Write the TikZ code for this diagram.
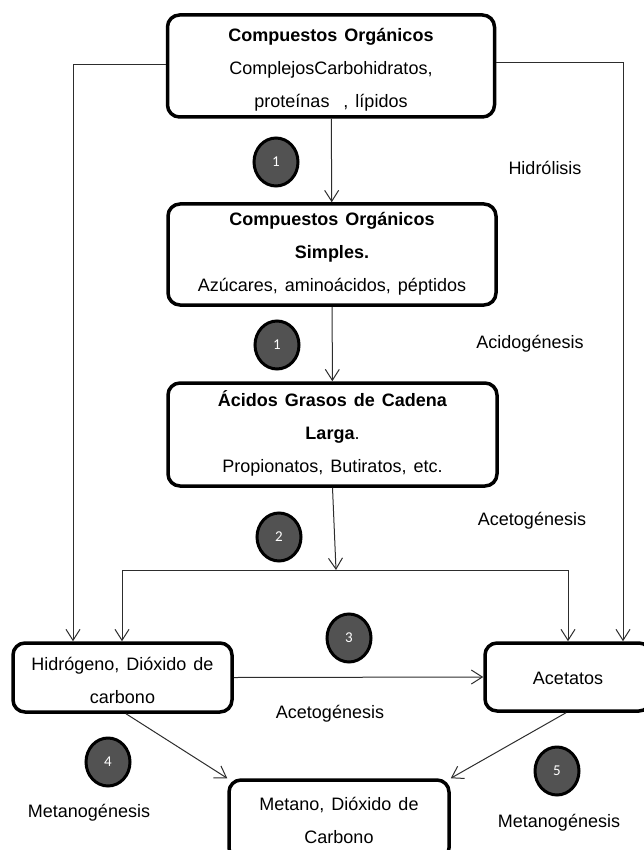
\documentclass[tikz,border=0pt]{standalone}
\usepackage{fontspec}
\setmainfont{Liberation Sans}
\newfontfamily\numfont{Carlito}
\usetikzlibrary{arrows.meta,shapes.geometric,calc}
\definecolor{stepfill}{RGB}{82,82,82}
\definecolor{linegray}{RGB}{45,45,45}
\newcommand\stagefont{\fontsize{18}{33}\selectfont\spaceskip 7pt plus 2pt minus 1pt\relax}
\tikzset{
  stagebox/.style={draw=black, line width=3.5pt, rounded corners=12pt, fill=white,
    inner sep=0pt},
  stagetext/.style={align=center, inner sep=0pt, font=\stagefont},
  stepmark/.style={ellipse, draw=black, line width=3pt, fill=stepfill,
    minimum width=44pt, minimum height=48pt, inner sep=0pt,
    text=white, font=\numfont\fontsize{15}{15}\selectfont},
  phase/.style={font=\fontsize{18}{20}\selectfont, inner sep=0pt},
  wire/.style={draw=linegray, line width=1pt},
  flow/.style={wire, -{Straight Barb[length=11pt,width=14pt,line width=1pt]}}
}
\begin{document}
\begin{tikzpicture}[x=1pt,y=-1pt]
\useasboundingbox (0,0) rectangle (644,850);

% main stages: frames
\node[stagebox, minimum width=327pt, minimum height=102pt] (b1) at (331,66) {};
\node[stagebox, minimum width=328pt, minimum height=101pt] (b2) at (332,254.5) {};
\node[stagebox, minimum width=329pt, minimum height=103pt] (b3) at (332.5,434.5) {};
\node[stagebox, minimum width=219pt, minimum height=69pt] (hid) at (122.5,677.5) {};
\node[stagebox, minimum width=166pt, minimum height=68pt] (acet) at (568,677) {};
\node[stagebox, minimum width=220pt, minimum height=80pt] (met) at (339,820) {};

% main stages: contents
\node[stagetext] (t1) at ($(b1)+(0,4)$)
  {\textbf{Compuestos Orgánicos}\\ComplejosCarbohidratos,\\proteínas \ , lípidos};
\node[stagetext] (t2) at ($(b2)+(0,-0.5)$)
  {\textbf{Compuestos Orgánicos}\\\textbf{Simples.}\\Azúcares, aminoácidos, péptidos};
\node[stagetext] (t3) at ($(b3)+(0,-1)$)
  {\textbf{Ácidos Grasos de Cadena}\\\textbf{Larga}.\\Propionatos, Butiratos, etc.};
\node[stagetext] (t4) at ($(hid)+(0,3)$) {Hidrógeno, Dióxido de\\carbono};
\node[stagetext] (t5) at ($(acet)+(0,1)$) {Acetatos};
\node[stagetext] (t6) at (met) {Metano, Dióxido de\\Carbono};

% step markers
\node[stepmark] (c1a) at (276,162) {1};
\node[stepmark] (c1b) at (277,345) {1};
\node[stepmark] (c2) at (279,537) {2};
\node[stepmark] (c3) at (349,638) {3};
\node[stepmark] (c4) at (108,762) {4};
\node[stepmark] (c5) at (557,771) {5};

% phase names
\node[phase] (lh) at (545,168) {Hidrólisis};
\node[phase] (la) at (530,344) {Acidogénesis};
\node[phase] (lt1) at (532,521) {Acetogénesis};
\node[phase] (lt2) at (330,714) {Acetogénesis};
\node[phase] (lm1) at (89,813) {Metanogénesis};
\node[phase] (lm2) at (559,823) {Metanogénesis};

% routing points
\coordinate (jn) at (336,570);
\coordinate (jl) at (122,570);
\coordinate (jr) at (568,570);
\coordinate (ol) at (73,65);
\coordinate (or) at (623,63);

% connectors
\draw[flow] (b1) -- (b2);
\draw[flow] (b2) -- (b3);
\draw[flow] (b3.south) -- (jn);
\draw[wire] (jl) -- (jr);
\draw[flow] (jl) -- (jl |- hid.north);
\draw[flow] (jr) -- (jr |- acet.north);
\draw[flow] (b1.west |- ol) -- (ol) -- (ol |- hid.north);
\draw[flow] (b1.east |- or) -- (or) -- (or |- acet.north);
\draw[flow] (hid.east) -- (acet.west);
\draw[flow] ($(hid.south)+(3.5,0)$) -- (met.north west);
\draw[flow] ($(acet.south)-(2,0)$) -- (met.north east);
\end{tikzpicture}
\end{document}
